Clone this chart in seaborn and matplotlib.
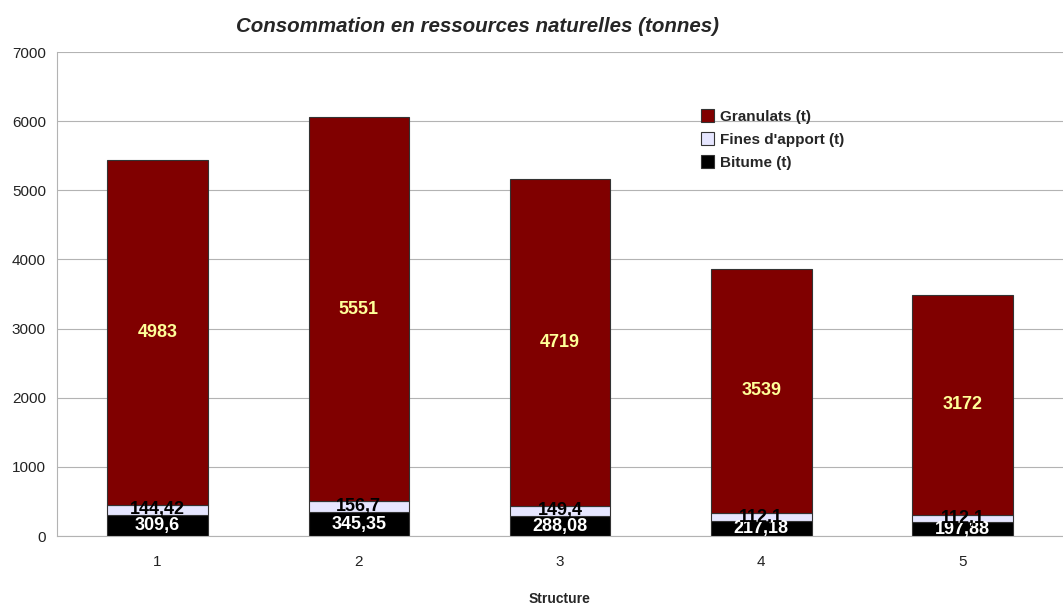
import numpy as np
import pandas as pd
import matplotlib.pyplot as plt
import seaborn as sns

# values
structures = ["1", "2", "3", "4", "5"]
bitume = [309.6, 345.35, 288.08, 217.18, 197.88]
fines = [144.42, 156.7, 149.4, 112.1, 112.1]
granulats = [4983, 5551, 4719, 3539, 3172]
bitume_txt = ["309,6", "345,35", "288,08", "217,18", "197,88"]
fines_txt = ["144,42", "156,7", "149,4", "112,1", "112,1"]

df = pd.DataFrame({"Structure": structures, "Bitume": bitume,
                   "Fines": fines, "Granulats": granulats})
df["base_g"] = df["Bitume"] + df["Fines"]

sns.set_style("white")
plt.rcParams['font.family'] = ['Liberation Sans', 'DejaVu Sans']

fig = plt.figure(figsize=(10.63, 6.06), dpi=100)
ax = fig.add_axes([57 / 1063, 1 - 536 / 606, 1 - 57 / 1063, (536 - 52) / 606])

edge = "#333333"
sns.barplot(data=df, x="Structure", y="Bitume", color="#000000", width=0.5,
            edgecolor=edge, linewidth=0.8, saturation=1, ax=ax, label="Bitume (t)")
sns.barplot(data=df, x="Structure", y="Fines", bottom=df["Bitume"], color="#e6e6ff",
            width=0.5, edgecolor=edge, linewidth=0.8, saturation=1, ax=ax,
            label="Fines d'apport (t)")
sns.barplot(data=df, x="Structure", y="Granulats", bottom=df["base_g"], color="#800000",
            width=0.5, edgecolor=edge, linewidth=0.8, saturation=1, ax=ax,
            label="Granulats (t)")

# value labels
for i in range(len(structures)):
    ax.text(i, bitume[i] / 2, bitume_txt[i], ha="center", va="center",
            color="white", fontsize=13, fontweight="bold")
    ax.text(i, bitume[i] + fines[i] / 2, fines_txt[i], ha="center", va="center",
            color="black", fontsize=13, fontweight="bold")
    ax.text(i, df["base_g"][i] + granulats[i] / 2, str(granulats[i]), ha="center",
            va="center", color="#ffff99", fontsize=13, fontweight="bold")

ax.set_ylim(0, 7000)
ax.set_xlim(-0.5, 4.5)
ax.set_yticks(range(0, 7001, 1000))
ax.yaxis.grid(True, color="#b3b3b3", linewidth=0.8)
ax.set_axisbelow(True)
for s in ["top", "right"]:
    ax.spines[s].set_visible(False)
for s in ["left", "bottom"]:
    ax.spines[s].set_color("#b3b3b3")
    ax.spines[s].set_linewidth(0.8)

ax.set_xticks(np.arange(-0.5, 5, 1), minor=True)
ax.tick_params(axis="x", which="major", length=0, pad=14, labelsize=11, colors="#222222")
ax.tick_params(axis="x", which="minor", length=6, color="#b3b3b3", width=0.8)
ax.tick_params(axis="y", length=5, color="#b3b3b3", width=0.8, labelsize=11,
               labelcolor="#222222", pad=3)
ax.set_ylabel("")
ax.set_xlabel("Structure", fontsize=10, fontweight="bold", labelpad=16)

h, l = ax.get_legend_handles_labels()
leg = ax.legend(h[::-1], l[::-1], loc="upper left", bbox_to_anchor=(0.626, 0.91),
                frameon=False, handlelength=0.9, handleheight=0.9,
                handletextpad=0.4, labelspacing=0.55, prop={"weight": "bold", "size": 11})

fig.text(478 / 1063, 1 - 26 / 606, "Consommation en ressources naturelles (tonnes)",
         ha="center", va="center", fontsize=14.8, fontweight="bold", style="italic")

fig.savefig("out.png", dpi=100)
